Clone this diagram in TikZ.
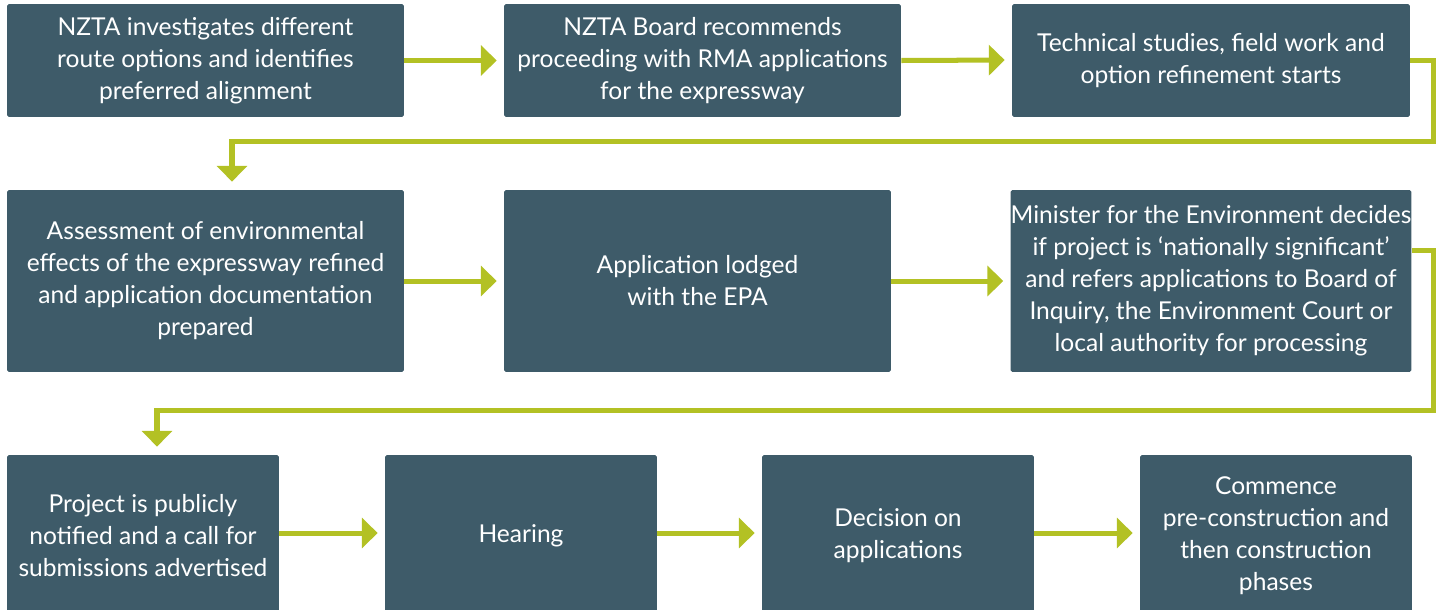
\documentclass[tikz,border=0pt]{standalone}
\usepackage{fontspec}
\setmainfont{Lato}
\usetikzlibrary{arrows.meta}

\definecolor{stageblue}{HTML}{3E5B69}
\definecolor{flowgreen}{HTML}{B3C124}

\tikzset{
	stage/.style={fill=stageblue, text=white, rounded corners=1pt, align=center,
		inner sep=0pt, font=\fontsize{14}{18.2}\selectfont},
	flow/.style={draw=flowgreen, line width=2.85pt, shorten >=0.14cm,
		-{Triangle[width=17pt, length=9pt]}}
}

\begin{document}
\begin{tikzpicture}[x=0.02cm, y=-0.02cm]
	\clip (0,0) rectangle (1441,609);

	% first row
	\node[stage, minimum width=7.94cm, minimum height=2.26cm] (investigate) at (205.5,60.5)
		{NZTA investigates different\\route options and identifies\\preferred alignment};
	\node[stage, minimum width=7.94cm, minimum height=2.26cm] (board) at (702.5,60.5)
		{NZTA Board recommends\\proceeding with RMA applications\\for the expressway};
	\node[stage, minimum width=7.96cm, minimum height=2.26cm] (studies) at (1211,60.5)
		{Technical studies, field work and\\option refinement starts};

	% second row
	\node[stage, minimum width=7.94cm, minimum height=3.64cm] (assessment) at (205.5,281)
		{Assessment of environmental\\effects of the expressway refined\\and application documentation\\prepared};
	\node[stage, minimum width=7.74cm, minimum height=3.64cm] (lodged) at (697.5,281)
		{Application lodged\\with the EPA};
	\node[stage, minimum width=7.96cm, minimum height=3.64cm] (minister) at (1211,281)
		{Minister for the Environment decides\\if project is ‘nationally significant’\\and refers applications to Board of\\Inquiry, the Environment Court or\\local authority for processing};

	% third row
	\node[stage, minimum width=5.44cm, minimum height=3.24cm] (notified) at (143,536)
		{Project is publicly\\notified and a call for\\submissions advertised};
	\node[stage, minimum width=5.44cm, minimum height=3.24cm] (hearing) at (521,536)
		{Hearing};
	\node[stage, minimum width=5.44cm, minimum height=3.24cm] (decision) at (898,536)
		{Decision on\\applications};
	\node[stage, minimum width=5.44cm, minimum height=3.24cm] (commence) at (1276,536)
		{Commence\\pre-construction and\\then construction\\phases};

	\coordinate (turnA) at (1433,141);
	\coordinate (turnB) at (1433,410);

	\draw[flow] (investigate.east) -- (board.west);
	\draw[flow] (board.east) -- ([yshift=0.01cm]studies.west);
	\draw[flow, shorten >=0pt] (studies.east) -| (turnA) -| ([xshift=0.53cm, yshift=0.16cm]assessment.north);
	\draw[flow] (assessment.east) -- (lodged.west);
	\draw[flow] (lodged.east) -- (minister.west);
	\draw[flow, shorten >=0pt] ([yshift=0.62cm]minister.east) -| (turnB) -| ([xshift=0.28cm, yshift=0.16cm]notified.north);
	\draw[flow] ([yshift=0.06cm]notified.east) -- ([yshift=0.06cm]hearing.west);
	\draw[flow] ([yshift=0.06cm]hearing.east) -- ([yshift=0.06cm]decision.west);
	\draw[flow] ([yshift=0.06cm]decision.east) -- ([yshift=0.06cm]commence.west);
\end{tikzpicture}
\end{document}
